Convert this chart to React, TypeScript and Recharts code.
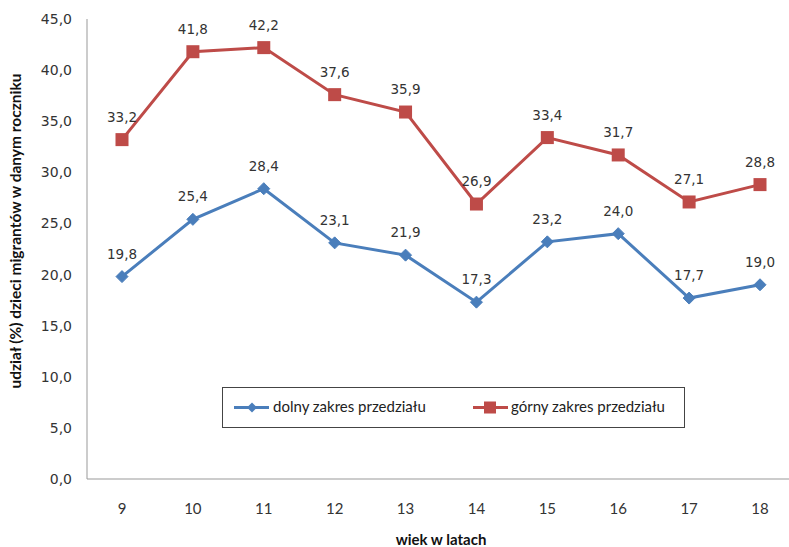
import React from 'react';
import { LineChart, Line, XAxis, YAxis, LabelList } from 'recharts';

const ages = ['9', '10', '11', '12', '13', '14', '15', '16', '17', '18'];
const lower = [19.8, 25.4, 28.4, 23.1, 21.9, 17.3, 23.2, 24.0, 17.7, 19.0];
const upper = [33.2, 41.8, 42.2, 37.6, 35.9, 26.9, 33.4, 31.7, 27.1, 28.8];
const yTicks = [0, 5, 10, 15, 20, 25, 30, 35, 40, 45];

const BLUE = '#4A7EBB';
const RED = '#BE4B48';

const data = ages.map((age, i) => ({ age, lower: lower[i], upper: upper[i] }));

const fmt = (v: number) => v.toFixed(1).replace('.', ',');

const Diamond = (props: any) => {
  const { cx, cy } = props;
  if (cx == null || cy == null) return null;
  const r = 6;
  return (
    <polygon
      points={`${cx},${cy - r} ${cx + r},${cy} ${cx},${cy + r} ${cx - r},${cy}`}
      fill={BLUE}
      stroke={BLUE}
    />
  );
};

const Square = (props: any) => {
  const { cx, cy } = props;
  if (cx == null || cy == null) return null;
  const s = 6.5;
  return <rect x={cx - s} y={cy - s} width={s * 2} height={s * 2} fill={RED} />;
};

const ValueLabel = (props: any) => {
  const { x, y, value } = props;
  return (
    <text
      x={x}
      y={y - 22}
      textAnchor="middle"
      dominantBaseline="middle"
      fontSize={13.5}
      fontFamily="DejaVu Sans, Verdana, sans-serif"
      fill="#333"
    >
      {fmt(value)}
    </text>
  );
};

const YTitle = () => (
  <text
    transform="translate(17, 231) rotate(-90)"
    textAnchor="middle"
    dominantBaseline="middle"
    fill="#111"
    fontSize={15.5}
    fontWeight="bold"
    fontFamily="Lato, sans-serif"
  >
    udział (%) dzieci migrantów w danym roczniku
  </text>
);

const XTitle = (props: any) => {
  const { viewBox } = props;
  return (
    <text
      x={viewBox.x + viewBox.width / 2}
      y={541}
      textAnchor="middle"
      dominantBaseline="middle"
      fill="#111"
      fontSize={15}
      fontWeight="bold"
      fontFamily="Lato, sans-serif"
    >
      wiek w latach
    </text>
  );
};

// legend box drawn over the plot, like the Excel original
const LegendBox = () => (
  <div
    style={{
      position: 'absolute',
      left: 222,
      top: 387,
      width: 461,
      height: 39,
      border: '1px solid #444',
      background: '#fff',
    }}
  >
    <svg width={461} height={39} style={{ display: 'block' }}>
      <line x1={11} y1={19.5} x2={46} y2={19.5} stroke={BLUE} strokeWidth={3} />
      <polygon points="29,14.5 34,19.5 29,24.5 24,19.5" fill={BLUE} />
      <text x={50} y={20} dominantBaseline="middle" fontSize={15} fontFamily="Lato, sans-serif" fill="#222">
        dolny zakres przedziału
      </text>
      <line x1={250} y1={19.5} x2={285} y2={19.5} stroke={RED} strokeWidth={3} />
      <rect x={261} y={13.5} width={12} height={12} fill={RED} />
      <text x={288} y={20} dominantBaseline="middle" fontSize={15} fontFamily="Lato, sans-serif" fill="#222">
        górny zakres przedziału
      </text>
    </svg>
  </div>
);

export default function App() {
  return (
    <div style={{ position: 'absolute', left: 0, top: 0, width: 800, height: 547, background: '#fff' }}>
      <LineChart
        width={800}
        height={547}
        data={data}
        margin={{ top: 19, right: 5, bottom: 0, left: 17 }}
      >
        <XAxis
          dataKey="age"
          height={68}
          padding={{ left: 35, right: 35 }}
          tickLine={false}
          tickMargin={18}
          stroke="#999"
          tick={{ fill: '#333', fontSize: 15, fontFamily: 'Lato, sans-serif' }}
          label={<XTitle />}
        />
        <YAxis
          width={70}
          domain={[0, 45]}
          ticks={yTicks}
          tickFormatter={fmt}
          tickLine={false}
          tickMargin={9}
          stroke="#999"
          tick={{ fill: '#333', fontSize: 14, fontFamily: 'DejaVu Sans, Verdana, sans-serif' }}
          label={<YTitle />}
        />
        <Line
          dataKey="lower"
          name="dolny zakres przedziału"
          stroke={BLUE}
          strokeWidth={3}
          dot={<Diamond />}
          activeDot={false}
          isAnimationActive={false}
        >
          <LabelList dataKey="lower" content={<ValueLabel />} />
        </Line>
        <Line
          dataKey="upper"
          name="górny zakres przedziału"
          stroke={RED}
          strokeWidth={3}
          dot={<Square />}
          activeDot={false}
          isAnimationActive={false}
        >
          <LabelList dataKey="upper" content={<ValueLabel />} />
        </Line>
      </LineChart>
      <LegendBox />
    </div>
  );
}
